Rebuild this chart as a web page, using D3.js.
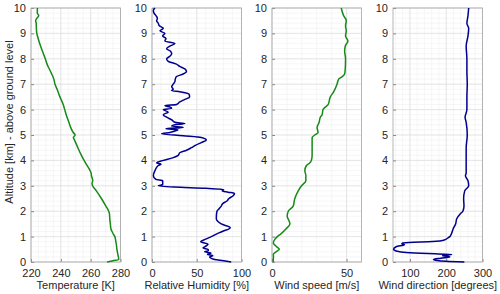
<!DOCTYPE html>
<html><head><meta charset="utf-8">
<script src="https://cdn.jsdelivr.net/npm/d3@7"></script>
<style>body{margin:0;background:#fff}svg{display:block}text{font-family:"Liberation Sans",Arial,Helvetica,sans-serif;fill:#262626}</style>
</head><body>
<script>
// ---- data (altitude in km, values per panel) ----
const tempAlt = [0,0.05,0.1,0.2,0.3,0.4,0.5,0.6,0.7,0.8,0.9,1.0,1.1,1.2,1.3,1.5,1.7,1.9,2.0,2.2,2.5,2.8,3.0,3.1,3.2,3.4,3.5,3.6,3.8,4.0,4.2,4.5,4.8,4.9,5.0,5.1,5.3,5.5,5.8,6.0,6.2,6.5,6.8,7.0,7.2,7.5,7.8,8.0,8.2,8.5,8.8,9.0,9.2,9.4,9.5,9.6,9.7,9.8,10];
const tempVal = [271,275,278.8,278.6,278.2,277.9,277.6,277.4,277.2,276.9,276.6,276.2,275.2,274.3,273.6,273.2,272.8,272.6,272.1,270.2,267.2,263.8,261.3,260.9,261.4,260.5,260.3,259.6,257.6,255.6,253.8,251.4,249.2,248.4,249.6,248.3,246.6,245.4,243.6,242.6,241.6,239.4,237.5,236.1,235.3,233.1,230.7,229.6,228.3,226.4,224.8,223.9,223.6,223.5,223.1,224.0,225.2,224.2,224.3];

const rhAlt = [0,0.05,0.1,0.15,0.2,0.25,0.3,0.35,0.4,0.45,0.5,0.55,0.6,0.7,0.8,0.9,1.0,1.1,1.2,1.35,1.5,1.7,1.85,2.0,2.1,2.2,2.3,2.4,2.5,2.6,2.7,2.75,2.8,2.85,2.9,2.95,3.0,3.05,3.1,3.2,3.25,3.4,3.6,3.8,3.85,3.9,4.0,4.1,4.2,4.3,4.4,4.5,4.6,4.7,4.8,4.9,4.97,5.05,5.1,5.15,5.2,5.25,5.3,5.35,5.4,5.45,5.5,5.6,5.7,5.8,5.9,6.0,6.05,6.1,6.15,6.2,6.3,6.4,6.5,6.6,6.7,6.75,6.8,6.9,7.0,7.1,7.2,7.3,7.4,7.5,7.6,7.7,7.8,7.9,8.0,8.1,8.2,8.3,8.4,8.5,8.6,8.7,8.8,8.9,9.0,9.1,9.2,9.3,9.4,9.5,9.6,9.7,9.8,9.9,10];
const rhVal = [88.5,80,70,66,64.4,68,61.9,66,58.9,63,62.6,57,59,62.6,54.4,60,66.3,72,78.5,87.4,77.4,71.9,72,72.6,75,77.4,79,83.7,86,90.4,92.2,85,78.5,80,60,25,7,11.9,12,11.9,4.4,1.5,3.3,7,10,5.2,12.6,23,29.3,31,38.5,44,49,55,60.7,55,34.8,10.7,20,25,29,15.6,34.8,22,25.6,36.7,25.6,21.9,16.3,12.6,18.1,12.6,22,20,14.4,27.4,31,36.7,42,41.5,31,21.9,23.7,22,23.7,25.6,26,27.4,34.8,38.5,36.7,31,26.7,18.1,16.3,20,22,20.7,16.3,20,25.6,14.4,15.6,11.9,14.4,8.9,12.6,8.1,7,5.2,6,4.4,2.2,1.5,3.3];

const wsAlt = [0,0.1,0.2,0.3,0.4,0.5,0.6,0.75,0.9,1.0,1.1,1.3,1.5,1.6,1.8,2.0,2.2,2.5,2.8,3.0,3.2,3.4,3.6,3.8,3.9,4.0,4.2,4.5,4.9,5.0,5.1,5.3,5.5,5.7,5.8,6.0,6.2,6.5,6.7,7.0,7.2,7.3,7.4,7.6,8.0,8.3,8.5,8.7,8.9,9.1,9.3,9.5,9.7,10];
const wsVal = [0.9,0.8,1.0,0.9,2.7,4.9,3.1,0.9,2.0,3.6,5.8,9.3,12,11.6,10.2,10.9,14.2,15.3,17.6,19.8,22.7,22.7,22.0,23.1,25.3,26.4,26.9,26.9,26.9,28.7,30.9,30.2,31.6,32.4,33.6,34.2,37.6,39.1,41.3,43.6,44.7,47.1,48.7,49.1,49.3,48.7,49.1,50.9,49.3,49.8,49.3,49.8,48.0,46.4];

const wdAlt = [0,0.03,0.06,0.1,0.15,0.2,0.25,0.3,0.33,0.37,0.42,0.5,0.6,0.68,0.72,0.75,0.78,0.8,0.85,0.9,0.95,1.0,1.1,1.3,1.5,1.7,1.9,2.0,2.2,2.5,2.8,3.0,3.2,3.4,3.5,3.8,4.0,4.5,5.0,5.5,5.7,6.0,6.5,7.0,7.5,8.0,8.5,8.9,9.2,9.4,9.7,10];
const wdVal = [250,200,175,165,185,210,190,215,150,90,65,55,62,85,78,80,110,150,190,200,205,210,214,219,226,229,239,246,249,248,251,262,260,253,255,255,255,255,258,255,252,257,257,258,257,257,255,260,262,257,260,262];

const xLabels = ["Temperature [K]","Relative Humidity [%]","Wind speed [m/s]","Wind direction [degrees]"];
const xDomains = [[220,280],[0,100],[0,60],[53.4,300]];
const xTicks = [[220,240,260,280],[0,50,100],[0,50],[100,200,300]];
const xMinor = [5,10,10,20];
const yTicks = d3.range(0,11,1);
const colors = ["#168a16","#00008f","#168a16","#00008f"];

const W=500,H=294;
const svg=d3.select("body").append("svg").attr("width",W).attr("height",H);
const topY=8,bottomY=262;
const lefts=[31,152,272,393];
const pw=89.5;
const y=d3.scaleLinear().domain([0,10]).range([bottomY,topY]);

const series=[[tempAlt,tempVal],[rhAlt,rhVal],[wsAlt,wsVal],[wdAlt,wdVal]];

series.forEach((s,i)=>{
  const x=d3.scaleLinear().domain(xDomains[i]).range([lefts[i],lefts[i]+pw]);
  const g=svg.append("g");
  const d=xDomains[i];
  const mx=d3.range(Math.ceil(d[0]/xMinor[i])*xMinor[i],d[1]+1e-9,xMinor[i]);
  const my=d3.range(0,10.001,0.2);
  g.selectAll(".mx").data(mx).join("line").attr("x1",v=>x(v)).attr("x2",v=>x(v)).attr("y1",topY).attr("y2",bottomY).attr("stroke","#f0f0f0").attr("stroke-width",0.6);
  g.selectAll(".my").data(my).join("line").attr("y1",v=>y(v)).attr("y2",v=>y(v)).attr("x1",lefts[i]).attr("x2",lefts[i]+pw).attr("stroke","#f0f0f0").attr("stroke-width",0.6);
  g.selectAll(".gx").data(xTicks[i]).join("line").attr("x1",v=>x(v)).attr("x2",v=>x(v)).attr("y1",topY).attr("y2",bottomY).attr("stroke","#dedede").attr("stroke-width",0.7);
  g.selectAll(".gy").data(yTicks).join("line").attr("y1",v=>y(v)).attr("y2",v=>y(v)).attr("x1",lefts[i]).attr("x2",lefts[i]+pw).attr("stroke","#dedede").attr("stroke-width",0.7);
  const ax=d3.axisBottom(x).tickValues(xTicks[i]).tickSize(-3).tickPadding(7.5).tickFormat(d3.format("d"));
  const gx=g.append("g").attr("transform",`translate(0,${bottomY})`).call(ax);
  const ay=d3.axisLeft(y).tickValues(yTicks).tickSize(-3).tickPadding(5).tickFormat(d3.format("d"));
  const gy=g.append("g").attr("transform",`translate(${lefts[i]},0)`).call(ay);
  [gx,gy].forEach(a=>{a.select(".domain").remove();a.selectAll("line").attr("stroke","#888");a.selectAll("text").attr("font-size",11).attr("fill","#262626").attr("font-family",'"Liberation Sans",Arial,sans-serif');});
  g.append("rect").attr("x",lefts[i]).attr("y",topY).attr("width",pw).attr("height",bottomY-topY).attr("fill","none").attr("stroke","#a6a6a6").attr("stroke-width",0.8);
  const line=d3.line().x(dd=>x(dd[1])).y(dd=>y(dd[0])).curve(d3.curveMonotoneY);
  g.append("path").datum(s[0].map((a,k)=>[a,s[1][k]])).attr("d",line).attr("fill","none").attr("stroke",colors[i]).attr("stroke-width",1.5).attr("stroke-linejoin","round");
  g.append("text").attr("x",lefts[i]+pw/2).attr("y",289).attr("text-anchor","middle").attr("font-size",11).text(xLabels[i]);
});
svg.append("text").attr("transform",`translate(13,${(topY+bottomY)/2-13}) rotate(-90)`).attr("text-anchor","middle").attr("font-size",11).text("Altitude [km] - above ground level");
</script>
</body></html>
